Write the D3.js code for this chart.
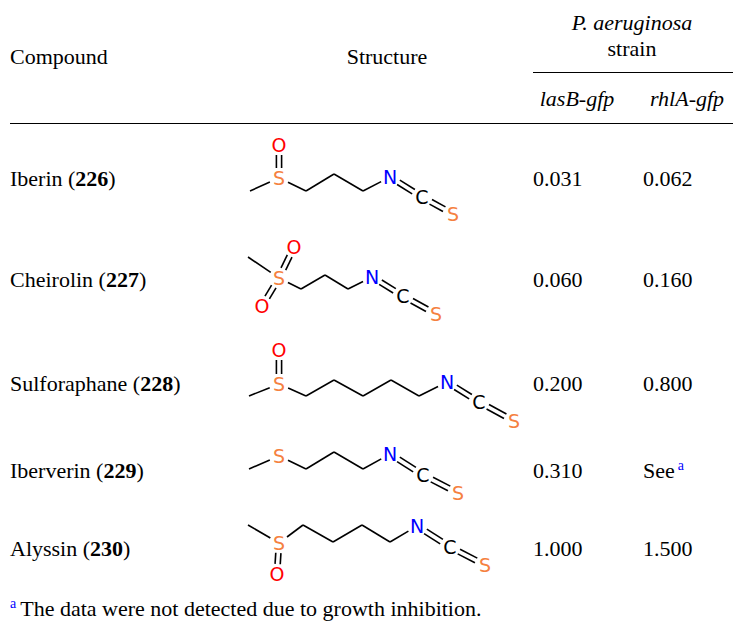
<!DOCTYPE html><html><head><meta charset="utf-8"><script src="https://cdn.jsdelivr.net/npm/d3@7"></script>
<style>body{margin:0;background:#fff} svg text.t{font-family:"Liberation Serif","DejaVu Serif",serif}</style></head><body><svg id="c" width="742" height="634"></svg>
<script>
const names=["Iberin","Cheirolin","Sulforaphane","Iberverin","Alyssin"];
const ids=["226","227","228","229","230"];
const lasB=["0.031","0.060","0.200","0.310","1.000"];
const rhlA=["0.062","0.160","0.800","See","1.500"];
const rowY=[179,280,384,471,549];
const anchors=[[279,178],[279,278],[279,384],[279,456],[279,543]];
const atoms=[
 [["C",-29,13],["S",0,0],["C",27,13],["C",55,-4],["C",84,13],["N",111,-1],["C",143,19],["S",174,36],["O",0,-33]],
 [["C",-31,-21],["S",0,0],["C",22,11],["C",46,-3],["C",69,11],["N",93,-1],["C",124,18],["S",157,36],["O",15,-31],["O",-17,28]],
 [["C",-30,12],["S",0,0],["C",27,12],["C",55,-4],["C",84,12],["C",112,-4],["C",140,12],["N",168,-2],["C",200,18],["S",235,37],["O",0,-34]],
 [["C",-30,13],["S",0,0],["C",27,13],["C",55,-4],["C",84,13],["N",111,-2],["C",144,19],["S",179,37]],
 [["C",-31,-18],["S",0,0],["C",24,-18],["C",54,-1],["C",83,-18],["C",111,-1],["N",138,-17],["C",171,4],["S",206,22],["O",-2,31]]
];
const bonds=[
 [[0,1,1],[1,2,1],[2,3,1],[3,4,1],[4,5,1],[5,6,2],[6,7,2],[1,8,2]],
 [[0,1,1],[1,2,1],[2,3,1],[3,4,1],[4,5,1],[5,6,2],[6,7,2],[1,8,2],[1,9,2]],
 [[0,1,1],[1,2,1],[2,3,1],[3,4,1],[4,5,1],[5,6,1],[6,7,1],[7,8,2],[8,9,2],[1,10,2]],
 [[0,1,1],[1,2,1],[2,3,1],[3,4,1],[4,5,1],[5,6,2],[6,7,2]],
 [[0,1,1],[1,2,1],[2,3,1],[3,4,1],[4,5,1],[5,6,1],[6,7,2],[7,8,2],[1,9,2]]
];
const colors={S:"#f5813f",O:"#f00",N:"#00f",C:"#000"};
const svg=d3.select("#c");
const T=(x,y,s,o={})=>svg.append("text").attr("class","t").attr("x",x).attr("y",y).attr("font-size",o.fs||22).attr("text-anchor",o.a||"start").attr("font-style",o.it?"italic":null).attr("fill",o.c||"#000").text(s);
T(10,64,"Compound");T(387,64,"Structure",{a:"middle"});
T(632,30,"P. aeruginosa",{a:"middle",it:1});T(632,56,"strain",{a:"middle"});
T(577,106,"lasB-gfp",{a:"middle",it:1});T(687,106,"rhlA-gfp",{a:"middle",it:1});
svg.append("line").attr("x1",533).attr("x2",733).attr("y1",72.5).attr("y2",72.5).attr("stroke","#000");
svg.append("line").attr("x1",10).attr("x2",733).attr("y1",123.5).attr("y2",123.5).attr("stroke","#000");
names.forEach((n,i)=>{
 const t=T(10,rowY[i]+7,n+" (");t.append("tspan").attr("font-weight","bold").text(ids[i]);t.append("tspan").text(")");
 T(533,rowY[i]+7,lasB[i]);
 const r=T(643,rowY[i]+7,rhlA[i]);
 if(rhlA[i]==="See")r.append("tspan").attr("fill","#00f").attr("font-size",14).attr("dy",-8).attr("dx",3).text("a");
 const [ax,ay]=anchors[i];
 const xs=d3.scaleLinear().domain([0,1]).range([ax,ax+1]),ys=d3.scaleLinear().domain([0,1]).range([ay,ay+1]);
 const g=svg.append("g");
 const A=atoms[i];
 const isNCS=k=>bonds[i].filter(b=>(b[0]===k||b[1]===k)&&b[2]===2).length===2;
 const labeled=k=>A[k][0]!=="C"||isNCS(k);
 bonds[i].forEach(([a,b,o])=>{
  let x1=xs(A[a][1]),y1=ys(A[a][2]),x2=xs(A[b][1]),y2=ys(A[b][2]);
  const dx=x2-x1,dy=y2-y1,L=Math.hypot(dx,dy),ux=dx/L,uy=dy/L;
  const ta=labeled(a)?10:0,tb=labeled(b)?10:0;
  x1+=ux*ta;y1+=uy*ta;x2-=ux*tb;y2-=uy*tb;
  const offs=o===2?[-2.6,2.6]:[0];
  offs.forEach(d=>g.append("line").attr("x1",x1-uy*d).attr("y1",y1+ux*d).attr("x2",x2-uy*d).attr("y2",y2+ux*d).attr("stroke","#000").attr("stroke-width",1.6));
 });
 A.forEach((at,k)=>{if(labeled(k))g.append("text").attr("x",xs(at[1])).attr("y",ys(at[2])).attr("dy","0.36em").attr("text-anchor","middle").attr("font-family","'DejaVu Sans',sans-serif").attr("font-size",19).attr("fill",colors[at[0]]).text(at[0]);});
});
const f=T(10,616,"");f.append("tspan").attr("fill","#00f").attr("font-size",14).attr("dy",-8).text("a");
f.append("tspan").attr("dy",8).attr("dx",4).text("The data were not detected due to growth inhibition.");
</script></body></html>
